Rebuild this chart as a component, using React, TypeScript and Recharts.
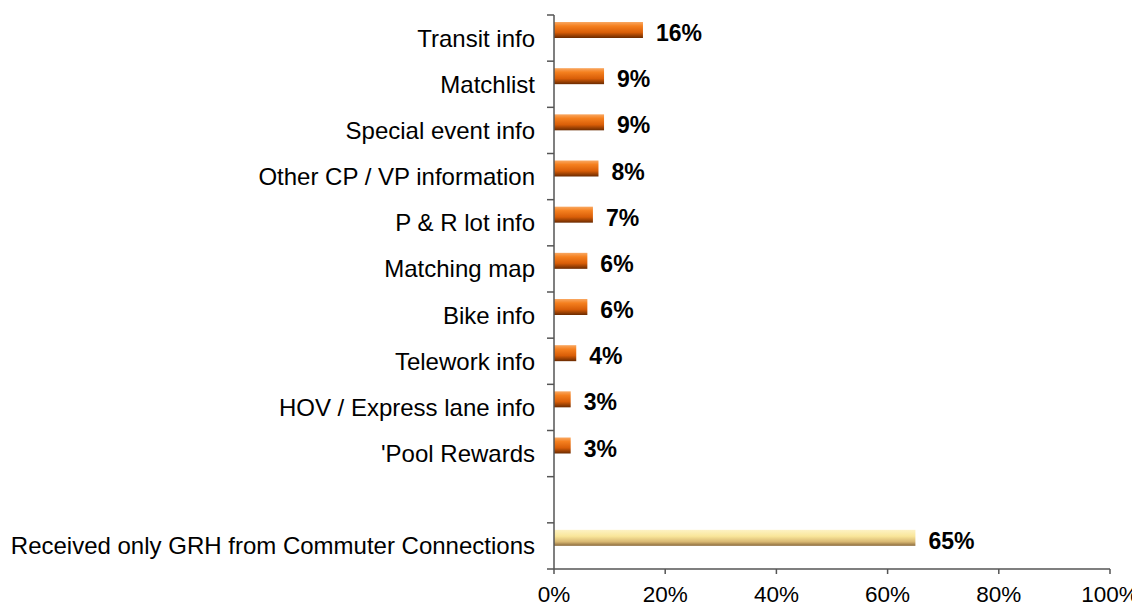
import { BarChart, Bar, XAxis, YAxis, Cell, LabelList } from "recharts";

const categories = [
  "Transit info",
  "Matchlist",
  "Special event info",
  "Other CP / VP information",
  "P & R lot info",
  "Matching map",
  "Bike info",
  "Telework info",
  "HOV / Express lane info",
  "'Pool Rewards",
  "",
  "Received only GRH from Commuter Connections",
];
const shares = [16, 9, 9, 8, 7, 6, 6, 4, 3, 3, null, 65];
const highlight = [false, false, false, false, false, false, false, false, false, false, false, true];
const xTicks = [0, 20, 40, 60, 80, 100];

const data = categories.map((name, i) => ({ name, value: shares[i], grh: highlight[i] }));

const FONT = '"Liberation Sans", Arial, sans-serif';
const AXIS = "#555";

// bars sit a little above the centre of their slot, like the 3d excel look
const LiftedBar = (props: any) => {
  const { x, y, width, height, fill } = props;
  if (!width || width <= 0) return null;
  return <rect x={x} y={y - 8} width={width} height={height} fill={fill} />;
};

const ValueLabel = (props: any) => {
  const { x, y, width, height, value } = props;
  if (value == null) return null;
  return (
    <text
      x={x + width + 13}
      y={y + height / 2 - 5}
      dominantBaseline="central"
      fontFamily={FONT}
      fontSize={23}
      fontWeight="bold"
      fill="#000"
    >
      {value}%
    </text>
  );
};

// category label plus tick marks on the slot boundaries instead of the centre
const CategoryTick = (props: any) => {
  const { x, y, payload, index, visibleTicksCount } = props;
  const half = payload.offset || 0;
  const last = index === visibleTicksCount - 1;
  return (
    <g>
      <line x1={x - 7} x2={x} y1={y - half} y2={y - half} stroke={AXIS} strokeWidth={1.5} />
      {last && <line x1={x - 7} x2={x} y1={y + half} y2={y + half} stroke={AXIS} strokeWidth={1.5} />}
      <text
        x={x - 19}
        y={y}
        textAnchor="end"
        dominantBaseline="central"
        fontFamily={FONT}
        fontSize={24}
        fill="#000"
      >
        {payload.value}
      </text>
    </g>
  );
};

export default function App() {
  return (
    <div style={{ width: 1132, height: 599, fontFamily: FONT }}>
      <BarChart
        width={1132}
        height={599}
        data={data}
        layout="vertical"
        margin={{ top: 7, right: 30, bottom: 8, left: 0 }}
      >
        <defs>
          <linearGradient id="orangeBar" x1="0" y1="0" x2="0" y2="1">
            <stop offset="0%" stopColor="#f9a862" />
            <stop offset="25%" stopColor="#f5801f" />
            <stop offset="65%" stopColor="#d95e08" />
            <stop offset="100%" stopColor="#6a2a00" />
          </linearGradient>
          <linearGradient id="grhBar" x1="0" y1="0" x2="0" y2="1">
            <stop offset="0%" stopColor="#fdf2c4" />
            <stop offset="40%" stopColor="#f9e69a" />
            <stop offset="75%" stopColor="#d8b772" />
            <stop offset="100%" stopColor="#8a6a3c" />
          </linearGradient>
        </defs>
        <XAxis
          type="number"
          domain={[0, 100]}
          ticks={xTicks}
          tickFormatter={(v) => `${v}%`}
          stroke={AXIS}
          strokeWidth={1.5}
          tickSize={5}
          tickMargin={12}
          height={30}
          tick={{ fill: "#000", fontSize: 22.5, fontFamily: FONT }}
        />
        <YAxis
          type="category"
          dataKey="name"
          width={546}
          stroke={AXIS}
          strokeWidth={1.5}
          tickLine={false}
          tickSize={0}
          tickMargin={0}
          interval={0}
          tick={CategoryTick}
        />
        <Bar dataKey="value" barSize={16} shape={LiftedBar} isAnimationActive={false}>
          {data.map((d, i) => (
            <Cell key={i} fill={d.grh ? "url(#grhBar)" : "url(#orangeBar)"} />
          ))}
          <LabelList dataKey="value" content={ValueLabel} />
        </Bar>
      </BarChart>
    </div>
  );
}
